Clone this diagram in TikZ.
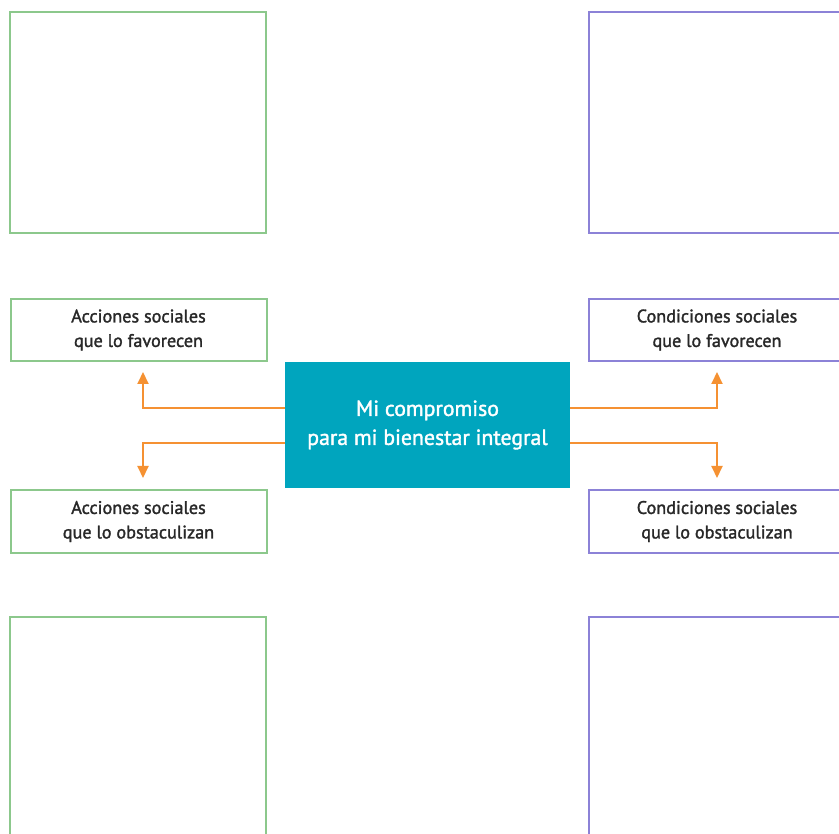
\documentclass[tikz,border=0pt]{standalone}
\usepackage{fontspec}
\setmainfont{PT Sans}
\newfontfamily\midfont[FakeBold=1.6]{PT Sans}
\usetikzlibrary{arrows.meta}
\definecolor{boxgreen}{RGB}{140,200,140}
\definecolor{boxpurple}{RGB}{140,130,215}
\definecolor{centerteal}{RGB}{0,165,190}
\definecolor{arrorange}{RGB}{245,145,50}
\definecolor{txtgray}{RGB}{40,40,40}
\begin{document}
\begin{tikzpicture}[x=1pt,y=-1pt,
  gbox/.style={draw=boxgreen,line width=2pt,inner sep=0pt},
  pbox/.style={draw=boxpurple,line width=2pt,inner sep=0pt},
  lbl/.style={align=center,text=txtgray,font=\midfont\fontsize{18.2}{24.5}\selectfont},
  arr/.style={draw=arrorange,line width=2pt,-{Triangle[length=12pt,width=11pt]}}]
\clip (0,0) rectangle (839,834);
\fill[white] (0,0) rectangle (839,834);
% big empty boxes
\node[gbox,minimum width=256,minimum height=221] (tl) at (138,122.5) {};
\node[pbox,minimum width=256,minimum height=221] (tr) at (717,122.5) {};
\node[gbox,minimum width=256,minimum height=228] (bl) at (138,731) {};
\node[pbox,minimum width=256,minimum height=228] (br) at (717,731) {};
% labels
\node[gbox,lbl,minimum width=256,minimum height=62] (la1) at (138.5,330) {Acciones sociales\\que lo favorecen};
\node[gbox,lbl,minimum width=256,minimum height=62] (la2) at (138.5,521.5) {Acciones sociales\\que lo obstaculizan};
\node[pbox,lbl,minimum width=256,minimum height=62] (lc1) at (717,330) {Condiciones sociales\\que lo favorecen};
\node[pbox,lbl,minimum width=256,minimum height=62] (lc2) at (717,521.5) {Condiciones sociales\\que lo obstaculizan};
% center
\node[fill=centerteal,minimum width=285,minimum height=126,inner sep=0pt,align=center,text=white,
  font=\midfont\fontsize{21.8}{29}\selectfont] (c) at (427.5,425) {Mi compromiso\\para mi bienestar integral};
% arrow ends
\coordinate (e1) at (143,372);
\coordinate (e2) at (143,478);
\coordinate (e3) at (717,372);
\coordinate (e4) at (717,478);
\draw[arr] (c.west |- 0,408) -| (e1);
\draw[arr] (c.west |- 0,443) -| (e2);
\draw[arr] (c.east |- 0,408) -| (e3);
\draw[arr] (c.east |- 0,443) -| (e4);
\end{tikzpicture}
\end{document}
